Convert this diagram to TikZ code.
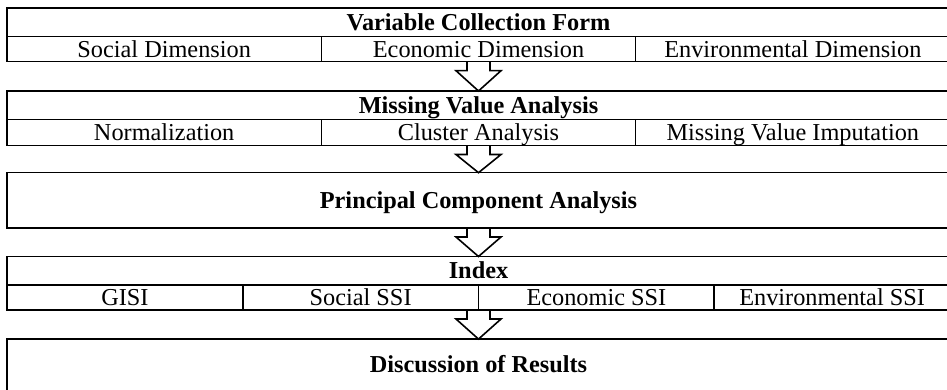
\documentclass[tikz,border=0pt]{standalone}
\usepackage{fontspec}
\setmainfont{Liberation Serif}
\usetikzlibrary{calc}

\begin{document}
\begin{tikzpicture}[x=1pt, y=-1pt,
    box/.style={draw, line width=1.6pt, inner sep=0pt, outer sep=0pt, text height=16pt, text depth=0pt, font=\fontsize{24.3}{29}\selectfont},
    head/.style={box, minimum width=943pt, font=\fontsize{24.3}{29}\selectfont\bfseries},
    third/.style={box, minimum width=314.33pt, minimum height=25pt},
    quarter/.style={box, minimum width=235.75pt, minimum height=25pt},
    flow/.style={line width=1.6pt, line join=miter}]
  \useasboundingbox (0,0) rectangle (947,390);

  % variable collection
  \node[head, minimum height=28.4pt] (form) at (478.5,22.5) {Variable Collection Form};
  \node[third] (social) at (164.17,49.2) {Social Dimension};
  \node[third] (econ) at (478.5,49.2) {Economic Dimension};
  \node[third] (env) at (792.83,49.2) {Environmental Dimension};

  % missing values
  \node[head, minimum height=28.5pt] (missing) at (478.5,105.25) {Missing Value Analysis};
  \node[third, minimum height=26pt] (norm) at (164.17,132.5) {Normalization};
  \node[third, minimum height=26pt] (cluster) at (478.5,132.5) {Cluster Analysis};
  \node[third, minimum height=26pt] (impute) at (792.83,132.5) {Missing Value Imputation};

  % pca
  \node[head, minimum height=55.3pt] (pca) at (478.5,200.35) {Principal Component Analysis};

  % index
  \node[head, minimum height=28.5pt] (index) at (478.5,270.75) {Index};
  \node[quarter] (gisi) at (124.875,297.5) {GISI};
  \node[quarter] (ssoc) at (360.625,297.5) {Social SSI};
  \node[quarter] (secon) at (596.375,297.5) {Economic SSI};
  \node[quarter] (senv) at (832.125,297.5) {Environmental SSI};

  % results
  \node[head, minimum height=55pt, text depth=3.8pt] (disc) at (478.5,366.6) {Discussion of Results};

  \foreach \a/\b in {econ/missing, cluster/pca, pca/index, ssoc/disc}{
    \coordinate (s) at (\b.north |- \a.south);
    \draw[flow] ($(s)+(-11.5,0)$) -- ++(0,9) -- ++(-11,0) -- (\b.north)
      -- ($(s)+(22.5,9)$) -- ++(-11,0) -- ($(s)+(11.5,0)$);
  }
\end{tikzpicture}
\end{document}
